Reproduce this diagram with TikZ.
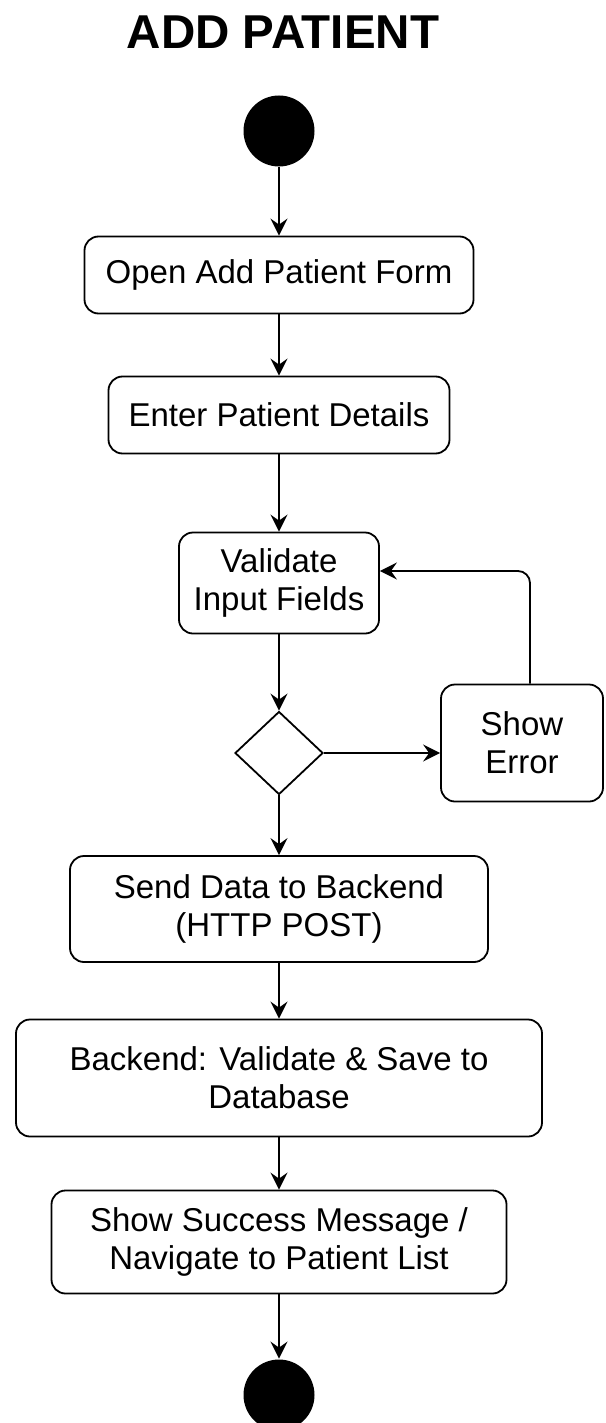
\documentclass[tikz,border=0pt]{standalone}
\usepackage{fontspec}
\setmainfont{Liberation Sans}
\usetikzlibrary{arrows.meta,shapes.geometric}
\tikzset{
every picture/.style={
line width=1.8pt
},
act/.style={draw, rounded corners=14pt, align=center, inner sep=0pt, font=\fontsize{33}{38}\selectfont},
dot/.style={circle, fill=black, inner sep=0pt, minimum size=71pt},
flow/.style={-{Stealth[length=17pt,width=17pt,inset=6pt]}}
}

\begin{document}
\begin{tikzpicture}[x=1pt,y=-1pt]
\useasboundingbox (0,0) rectangle (605,1423);

\node[font=\bfseries\fontsize{47.5}{50}\selectfont, inner sep=0pt] (title) at (283,32) {ADD PATIENT};

\node[dot] (start) at (279,131) {};
\node[act, minimum width=389pt, minimum height=77pt] (open) at (279,275) {Open Add Patient Form};
\node[act, minimum width=341pt, minimum height=77pt] (enter) at (279,415) {Enter Patient Details};
\node[act, minimum width=200pt, minimum height=101pt] (valid) at (279,583) {Validate\\Input Fields};
\node[draw, diamond, minimum width=88pt, minimum height=83pt, inner sep=0pt] (dec) at (279,753) {};
\node[act, minimum width=162pt, minimum height=117pt] (err) at (522,743) {Show\\Error};
\node[act, minimum width=418pt, minimum height=106pt] (send) at (279,909) {Send Data to Backend\\(HTTP POST)};
\node[act, minimum width=526pt, minimum height=117pt] (save) at (279,1078) {Backend: Validate \& Save to\\Database};
\node[act, minimum width=455pt, minimum height=103pt] (done) at (279,1242) {Show Success Message /\\Navigate to Patient List};
\node[dot] (stop) at (279,1395) {};

\foreach \a/\b in {start/open, open/enter, enter/valid, valid/dec, dec/send, send/save, save/done, done/stop}{
  \draw[flow] (\a) -- (\b);
}

\draw[flow] (dec.east) -- (dec.east -| err.west);
\draw[flow, rounded corners=12pt] ([xshift=8pt]err.north) |- ([yshift=12pt]valid.east);
\end{tikzpicture}
\end{document}
